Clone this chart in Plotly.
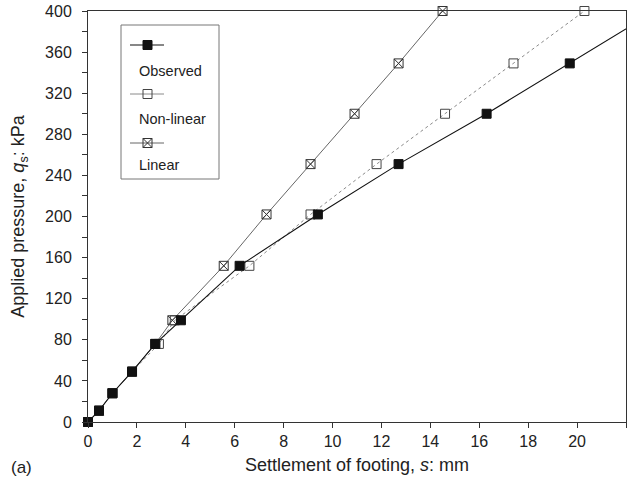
import plotly.graph_objects as go

# ---- data ----
obs_s = [0.0, 0.45, 1.0, 1.8, 2.75, 3.8, 6.2, 9.4, 12.7, 16.3, 19.7, 23.2]
obs_q = [0, 11, 28, 49, 76, 99, 152, 202, 251, 300, 349, 400]

nl_s = [0.0, 0.45, 1.0, 1.8, 2.9, 3.55, 6.6, 9.1, 11.8, 14.6, 17.4, 20.3]
nl_q = [0, 11, 28, 49, 76, 99, 152, 202, 251, 300, 349, 400]

lin_s = [0.0, 0.45, 1.0, 1.8, 2.75, 3.45, 5.55, 7.3, 9.1, 10.9, 12.7, 14.5]
lin_q = [0, 11, 28, 49, 76, 99, 152, 202, 251, 300, 349, 400]

x_ticks = [0, 2, 4, 6, 8, 10, 12, 14, 16, 18, 20, 22]
y_ticks = [0, 40, 80, 120, 160, 200, 240, 280, 320, 360, 400]
legend_names = ["Observed", "Non-linear", "Linear"]

FONT = "Liberation Sans, Arial, Helvetica, sans-serif"
AX = "#333333"

styles = [
    dict(line=dict(color="#111111", width=1.1),
         marker=dict(symbol="square", size=9, color="#111111", line=dict(color="#111111", width=1))),
    dict(line=dict(color="#8a8a8a", width=1, dash="dot"),
         marker=dict(symbol="square-open", size=9, color="#444444", line=dict(width=1))),
    dict(line=dict(color="#666666", width=1),
         marker=dict(symbol="square-x-open", size=9, color="#333333", line=dict(width=1))),
]

fig = go.Figure()
# draw order: linear, non-linear, observed (observed on top)
for idx, (xs, ys) in [(2, (lin_s, lin_q)), (1, (nl_s, nl_q)), (0, (obs_s, obs_q))]:
    fig.add_trace(go.Scatter(x=xs, y=ys, mode="lines+markers", name=legend_names[idx],
                             showlegend=False, cliponaxis=False, **styles[idx]))

# ---- custom legend (sample line + marker above each label), on a hidden overlay axis ----
L = 538.0
H = 411.0
def px(xp):
    return (xp - 88) / L
def py(yp):
    return (422 - yp) / H

sample_y = [45, 94, 143]
label_y = [71, 119, 165]
for i in range(3):
    fig.add_trace(go.Scatter(x=[px(130), px(164)], y=[py(sample_y[i])] * 2, mode="lines",
                             line=styles[i]["line"] | dict(dash="solid"), xaxis="x2", yaxis="y2",
                             showlegend=False, hoverinfo="skip"))
    fig.add_trace(go.Scatter(x=[px(147.5)], y=[py(sample_y[i])], mode="markers",
                             marker=styles[i]["marker"], xaxis="x2", yaxis="y2",
                             showlegend=False, hoverinfo="skip"))
    fig.add_annotation(x=px(137), y=py(label_y[i]), xref="paper", yref="paper",
                       text=legend_names[i], showarrow=False, xanchor="left", yanchor="middle",
                       font=dict(family=FONT, size=14.5, color="#222222"))

fig.add_shape(type="rect", xref="paper", yref="paper",
              x0=px(121), x1=px(219), y0=py(179), y1=py(25),
              line=dict(color="#777777", width=1))

fig.add_annotation(x=px(9), y=py(467), xref="paper", yref="paper", text="(a)",
                   showarrow=False, xanchor="left", yanchor="middle",
                   font=dict(family=FONT, size=17, color="#222222"))

fig.update_layout(
    width=627, height=480,
    margin=dict(l=88, r=1, t=11, b=58),
    paper_bgcolor="white", plot_bgcolor="white",
    font=dict(family=FONT, size=16, color="#222222"),
    xaxis=dict(range=[0, 22], tickvals=x_ticks, ticks="outside", ticklen=5, tickcolor=AX,
               showline=True, linecolor=AX, linewidth=1, mirror=True, showgrid=False,
               zeroline=False, tickfont=dict(size=16),
               title=dict(text="Settlement of footing, <i>s</i>: mm", font=dict(size=18), standoff=9)),
    yaxis=dict(range=[0, 400], tickvals=y_ticks, ticks="outside", ticklen=5, tickcolor=AX,
               ticklabelstandoff=7,
               minor=dict(tickvals=list(range(20, 400, 40)), ticks="outside", ticklen=5, tickcolor=AX),
               showline=True, linecolor=AX, linewidth=1, mirror=True, showgrid=False,
               zeroline=False, tickfont=dict(size=16),
               title=dict(text="Applied pressure, <i>q</i><sub>s</sub>: kPa", font=dict(size=18), standoff=15)),
    xaxis2=dict(range=[0, 1], overlaying="x", anchor="y2", visible=False, fixedrange=True),
    yaxis2=dict(range=[0, 1], overlaying="y", anchor="x2", visible=False, fixedrange=True),
)

fig.write_html("out.html", config={"displayModeBar": False},
               post_script="document.body.style.margin='0';document.body.style.overflow='hidden';")
